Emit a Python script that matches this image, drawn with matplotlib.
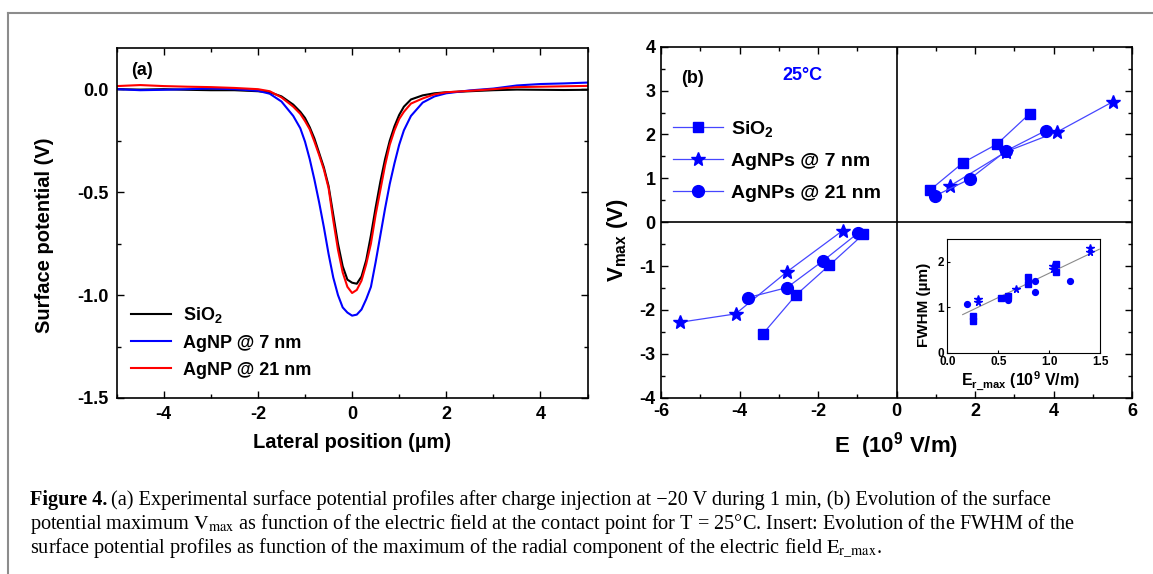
import numpy as np
import matplotlib.pyplot as plt
from matplotlib.lines import Line2D
from matplotlib.transforms import IdentityTransform

plt.rcParams['font.family'] = 'Liberation Sans'
plt.rcParams['axes.unicode_minus'] = False
plt.rcParams['mathtext.fontset'] = 'custom'
plt.rcParams['mathtext.rm'] = 'Liberation Sans:bold'
plt.rcParams['mathtext.it'] = 'Liberation Sans:bold'
plt.rcParams['mathtext.bf'] = 'Liberation Sans:bold'

# (a) surface potential profiles
pos = [-5, -4.5, -4, -3.5, -3, -2.5, -2, -1.75, -1.5, -1.25, -1.1, -1.0, -0.9, -0.8,
       -0.7, -0.6, -0.5, -0.4, -0.3, -0.2, -0.1, 0, 0.1, 0.2, 0.3, 0.4, 0.5, 0.6,
       0.7, 0.8, 0.9, 1.0, 1.1, 1.25, 1.5, 1.75, 2, 2.5, 3, 3.5, 4, 4.5, 5]
v_sio2 = [0.0, -0.002, 0.0, -0.003, -0.005, -0.005, -0.01, -0.015, -0.035, -0.075, -0.11,
          -0.14, -0.185, -0.24, -0.31, -0.38, -0.47, -0.61, -0.75, -0.86, -0.925, -0.94,
          -0.945, -0.91, -0.83, -0.71, -0.575, -0.45, -0.34, -0.25, -0.18, -0.125, -0.085,
          -0.05, -0.03, -0.02, -0.015, -0.01, -0.005, -0.002, -0.003, -0.004, -0.003]
v_ag7 = [0.0, -0.005, -0.003, 0.0, 0.003, 0.0, -0.008, -0.022, -0.06, -0.13, -0.19,
         -0.255, -0.34, -0.44, -0.55, -0.67, -0.80, -0.915, -1.0, -1.06, -1.085, -1.10,
         -1.095, -1.07, -1.02, -0.96, -0.84, -0.71, -0.58, -0.46, -0.36, -0.27, -0.20,
         -0.13, -0.065, -0.035, -0.02, -0.006, 0.003, 0.018, 0.025, 0.028, 0.032]
v_ag21 = [0.015, 0.02, 0.015, 0.012, 0.01, 0.006, 0.0, -0.01, -0.04, -0.085, -0.12,
          -0.155, -0.195, -0.255, -0.32, -0.39, -0.48, -0.637, -0.78, -0.89, -0.96, -0.99,
          -0.975, -0.93, -0.85, -0.75, -0.61, -0.49, -0.37, -0.27, -0.20, -0.145, -0.11,
          -0.07, -0.045, -0.025, -0.015, -0.008, 0.0, 0.01, 0.012, 0.014, 0.016]

# (b) Vmax vs E, negative and positive branches
e_sio2_neg = [-3.41, -2.56, -1.71, -0.85]
v_sio2_neg = [-2.55, -1.66, -0.98, -0.28]
e_sio2_pos = [0.85, 1.70, 2.56, 3.39]
v_sio2_pos = [0.73, 1.36, 1.78, 2.47]
e_ag7_neg = [-5.51, -4.10, -2.79, -1.37]
v_ag7_neg = [-2.28, -2.09, -1.13, -0.19]
e_ag7_pos = [1.37, 2.80, 4.10, 5.52]
v_ag7_pos = [0.83, 1.61, 2.06, 2.75]
e_ag21_neg = [-3.79, -2.79, -1.87, -0.97]
v_ag21_neg = [-1.72, -1.49, -0.88, -0.24]
e_ag21_pos = [0.98, 1.86, 2.80, 3.81]
v_ag21_pos = [0.60, 0.98, 1.63, 2.09]

# inset: FWHM vs Er_max
ins_sq_x = [0.25, 0.25, 0.53, 0.59, 0.79, 0.79, 1.07, 1.07]
ins_sq_y = [0.82, 0.70, 1.20, 1.25, 1.66, 1.51, 1.95, 1.78]
ins_st_x = [0.30, 0.30, 0.67, 1.04, 1.04, 1.40, 1.40]
ins_st_y = [1.19, 1.12, 1.41, 1.91, 1.84, 2.31, 2.21]
ins_ci_x = [0.19, 0.59, 0.86, 0.86, 1.20]
ins_ci_y = [1.07, 1.16, 1.57, 1.33, 1.57]
fit_x = [0.15, 1.49]
fit_y = [0.84, 2.28]

W, H = 1153, 574
fig = plt.figure(figsize=(W / 100, H / 100), dpi=100)
BOLD = 'bold'

def style_axes(ax, size=13, pad=6, major=5, minor=3):
    ax.tick_params(which='both', direction='in', top=True, right=True, width=1)
    ax.tick_params(which='major', length=major, labelsize=size, pad=pad)
    ax.tick_params(which='minor', length=minor)
    for s in ax.spines.values():
        s.set_linewidth(1.2)

# ---- panel (a)
ax1 = fig.add_axes([116.7 / W, 1 - 398 / H, 470.8 / W, 350 / H])
ax1.plot(pos, v_sio2, color='black', lw=1.5, label='SiO$_2$')
ax1.plot(pos, v_ag7, color='#0000ff', lw=1.5, label='AgNP @ 7 nm')
ax1.plot(pos, v_ag21, color='#ff0000', lw=1.5, label='AgNP @ 21 nm')
ax1.set_xlim(-5, 5)
ax1.set_ylim(-1.5, 0.2)
ax1.set_xticks([-4, -2, 0, 2, 4])
ax1.set_xticklabels(['-4', '-2', '0', '2', '4'], fontweight=BOLD)
ax1.set_xticks([-5, -3, -1, 1, 3, 5], minor=True)
ax1.set_yticks([0, -0.5, -1.0, -1.5])
ax1.set_yticklabels(['0.0', '-0.5', '-1.0', '-1.5'], fontweight=BOLD)
ax1.set_yticks([-0.25, -0.75, -1.25], minor=True)
style_axes(ax1)
ax1.set_xlabel('Lateral position (µm)', fontsize=14.5, fontweight=BOLD)
ax1.xaxis.set_label_coords(0.5, -0.1)
ax1.set_ylabel('Surface potential (V)', fontsize=14.5, fontweight=BOLD)
ax1.yaxis.set_label_coords(-0.133, 0.465)
ax1.text(0.053, 0.935, '(a)', transform=ax1.transAxes, fontsize=13, fontweight=BOLD,
         ha='center', va='center')
ax1.legend(loc='lower left', bbox_to_anchor=(0.03, 0.055), frameon=False,
           prop={'size': 13, 'weight': BOLD},
           handlelength=2.2, handletextpad=0.7, labelspacing=0.55, borderaxespad=0, borderpad=0)

# ---- panel (b)
ax2 = fig.add_axes([661 / W, 1 - 397.7 / H, 471 / W, 351 / H])
ax2.axhline(0, color='black', lw=1.2, zorder=1)
ax2.axvline(0, color='black', lw=1.2, zorder=1)
lc = '#4646ff'
mc = '#0000ff'
series = [
    (e_sio2_neg, v_sio2_neg, e_sio2_pos, v_sio2_pos, 's', 6.8, 'SiO$_2$'),
    (e_ag7_neg, v_ag7_neg, e_ag7_pos, v_ag7_pos, '*', 10.5, 'AgNPs @ 7 nm'),
    (e_ag21_neg, v_ag21_neg, e_ag21_pos, v_ag21_pos, 'o', 8.5, 'AgNPs @ 21 nm'),
]
for xn, yn, xp, yp, mk, ms, lab in series:
    ax2.plot(xn, yn, color=lc, lw=0.9, marker=mk, ms=ms, mfc=mc, mec=mc, label=lab, zorder=3)
    ax2.plot(xp, yp, color=lc, lw=0.9, marker=mk, ms=ms, mfc=mc, mec=mc, zorder=3)
ax2.set_xlim(-6, 6)
ax2.set_ylim(-4, 4)
ax2.set_xticks([-6, -4, -2, 0, 2, 4, 6])
ax2.set_xticklabels(['-6', '-4', '-2', '0', '2', '4', '6'], fontweight=BOLD)
ax2.set_xticks([-5, -3, -1, 1, 3, 5], minor=True)
ax2.set_yticks(range(-4, 5))
ax2.set_yticklabels([str(v) for v in range(-4, 5)], fontweight=BOLD)
ax2.set_yticks(np.arange(-3.5, 4, 1), minor=True)
style_axes(ax2, pad=4)
ax2.set_xlabel('E  (10$^9$ V/m)', fontsize=16, fontweight=BOLD)
ax2.xaxis.set_label_coords(0.499, -0.092)
ax2.set_ylabel('V$_{max}$ (V)', fontsize=16, fontweight=BOLD)
ax2.yaxis.set_label_coords(-0.066, 0.45)
ax2.text(0.066, 0.908, '(b)', transform=ax2.transAxes, fontsize=13, fontweight=BOLD,
         ha='center', va='center')
ax2.text(0.301, 0.918, '25°C', transform=ax2.transAxes, fontsize=13, fontweight=BOLD,
         ha='center', va='center', color='#0000ff')
ax2.legend(loc='upper left', bbox_to_anchor=(0.025, 0.795), frameon=False,
           prop={'size': 14, 'weight': BOLD},
           handlelength=2.6, handletextpad=0.4, labelspacing=0.72, borderaxespad=0, borderpad=0)

# ---- inset
ax3 = fig.add_axes([947.4 / W, 1 - 352.7 / H, 152.8 / W, 113.4 / H])
ax3.plot(fit_x, fit_y, color='#8a8a8a', lw=0.8)
ax3.plot(ins_sq_x, ins_sq_y, 's', ms=4, color=mc)
ax3.plot(ins_st_x, ins_st_y, '*', ms=5.5, color=mc)
ax3.plot(ins_ci_x, ins_ci_y, 'o', ms=4.2, color=mc)
ax3.set_xlim(0, 1.5)
ax3.set_ylim(0, 2.5)
ax3.set_xticks([0, 0.5, 1.0, 1.5])
ax3.set_xticklabels(['0.0', '0.5', '1.0', '1.5'], fontweight=BOLD)
ax3.set_yticks([0, 1, 2])
ax3.set_yticklabels(['0', '1', '2'], fontweight=BOLD)
ax3.tick_params(direction='in', length=2.5, width=0.8, labelsize=8.5, pad=2.5)
for s in ax3.spines.values():
    s.set_linewidth(0.8)
ax3.set_ylabel('FWHM (µm)', fontsize=11, fontweight=BOLD)
ax3.yaxis.set_label_coords(-0.11, 0.42)
ax3.set_xlabel('E$_{r\\_max}$ (10$^9$ V/m)', fontsize=11.5, fontweight=BOLD)
ax3.xaxis.set_label_coords(0.48, -0.15)

# ---- page frame
fig.add_artist(Line2D([8 / W, 1], [1 - 13 / H, 1 - 13 / H], transform=fig.transFigure,
                      color='#8c8c8c', lw=1.5))
fig.add_artist(Line2D([8 / W, 8 / W], [0, 1 - 13 / H], transform=fig.transFigure,
                      color='#8c8c8c', lw=1.5))

# ---- caption
cap_font = 'Liberation Serif'
cs = 14.6
renderer = fig.canvas.get_renderer()
t0 = fig.text(30, H - 505, 'Figure 4.', transform=IdentityTransform(), family=cap_font,
              weight='bold', size=cs, va='baseline')
bb = t0.get_window_extent(renderer)
fig.text(bb.x1 + 4, H - 505,
         '(a) Experimental surface potential profiles after charge injection at \u221220 V during 1 min, '
         '(b) Evolution of the surface',
         transform=IdentityTransform(), family=cap_font, weight='normal', size=cs, va='baseline')
fig.text(30, H - 529,
         'potential maximum $\\mathrm{V}_\\mathrm{max}$ as function of the electric field at the contact '
         'point for T = 25\u00b0C. Insert: Evolution of the FWHM of the',
         transform=IdentityTransform(), family=cap_font, weight='normal', size=cs, va='baseline',
         math_fontfamily='stix')
fig.text(30, H - 553,
         'surface potential profiles as function of the maximum of the radial component of the '
         'electric field $\\mathrm{E}_\\mathrm{r\\_max}$.',
         transform=IdentityTransform(), family=cap_font, weight='normal', size=cs, va='baseline',
         math_fontfamily='stix')

fig.savefig('out.png', dpi=100)
